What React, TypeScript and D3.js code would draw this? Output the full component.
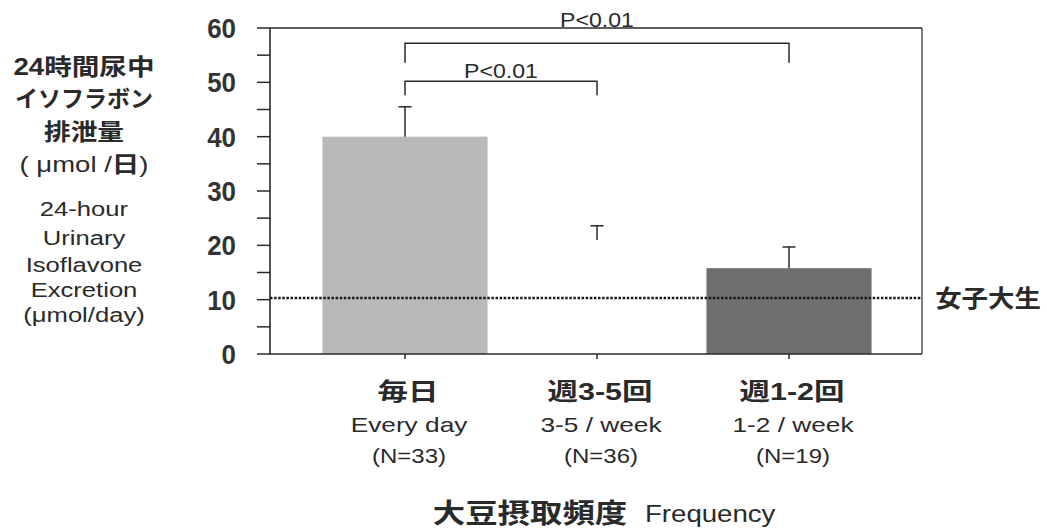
import React from "react";
import * as d3 from "d3";

// ---- Data ----
const categoriesJa = ["毎日", "週3-5回", "週1-2回"];
const categoriesEn = ["Every day", "3-5 / week", "1-2 / week"];
const sampleSizes = ["(N=33)", "(N=36)", "(N=19)"];
const meanValues = [40, 21, 15.8];
const errorValues = [5.5, 2.6, 3.9];
const yTickValues = [0, 10, 20, 30, 40, 50, 60];
const referenceValue = 10.3;
const referenceLabel = "女子大生";
const compFrom = [0, 0];
const compTo = [1, 2];
const compLevel = [50.2, 57.2];
const compLegEnd = [47.6, 53.6];
const compLabelLevel = [50.8, 60.25];
const compLabels = ["P<0.01", "P<0.01"];
const yTitleJa = ["24時間尿中", "イソフラボン", "排泄量"];
const yTitleEn = ["24-hour", "Urinary", "Isoflavone", "Excretion", "(μmol/day)"];

// ---- Styles ----
const barFills = ["#b9b9b9", "#ffffff", "#6f6f6f"];
const ink = "#2a2a2a";
const FONT = "'Liberation Sans', Arial, 'Noto Sans CJK JP', sans-serif";

const W = 1047;
const H = 528;
const left = 270;
const right = 922;
const top = 28;
const bottom = 354;

function T({ x, y, size, weight = "normal", sx = 1, anchor = "middle", children, fill = ink }: any) {
  return (
    <text
      transform={`translate(${x},${y}) scale(${sx},1)`}
      fontSize={size}
      fontWeight={weight}
      textAnchor={anchor}
      fill={fill}
    >
      {children}
    </text>
  );
}

export default function App() {
  const y = d3.scaleLinear().domain([0, 60]).range([bottom, top]);
  const x = d3
    .scaleBand<string>()
    .domain(categoriesJa)
    .range([309, 885])
    .paddingInner(0.14)
    .paddingOuter(0.07);
  const cx = (i: number) => (x(categoriesJa[i]) as number) + x.bandwidth() / 2;
  const minorTicks = d3.range(0, 61, 5);

  const jaSx = [1.2, 1.0, 1.16];
  const jaBase = [75, 107, 140];
  const enBase = [216, 245, 272, 297, 322];
  const titleX = 84;

  return (
    <svg
      width={W}
      height={H}
      style={{ position: "absolute", left: 0, top: 0, background: "#fff" }}
      fontFamily={FONT}
    >
      <rect x={0} y={0} width={W} height={H} fill="#fff" />

      {/* bars */}
      {meanValues.map((v, i) => (
        <rect
          key={"b" + i}
          x={x(categoriesJa[i])}
          y={y(v)}
          width={x.bandwidth()}
          height={y(0) - y(v)}
          fill={barFills[i]}
        />
      ))}

      {/* error bars (upper whisker) */}
      {meanValues.map((v, i) => (
        <g key={"e" + i} stroke={ink} strokeWidth={1.5}>
          <line x1={cx(i)} x2={cx(i)} y1={y(v)} y2={y(v + errorValues[i])} />
          <line x1={cx(i) - 6.5} x2={cx(i) + 6.5} y1={y(v + errorValues[i])} y2={y(v + errorValues[i])} />
        </g>
      ))}

      {/* reference dotted line */}
      <line
        x1={left}
        x2={right}
        y1={y(referenceValue)}
        y2={y(referenceValue)}
        stroke="#1a1a1a"
        strokeWidth={2.5}
        strokeDasharray="2.5,1.6"
      />
      <T x={988} y={y(referenceValue) + 9} size={24} weight="bold" sx={1.1}>
        {referenceLabel}
      </T>

      {/* frame */}
      <g stroke={ink} fill="none">
        <line x1={left} x2={left} y1={top} y2={bottom} strokeWidth={1.6} />
        <line x1={right} x2={right} y1={top} y2={bottom} strokeWidth={1.2} />
        <line x1={left} x2={right} y1={top} y2={top} strokeWidth={1.3} />
        <line x1={left} x2={right} y1={bottom} y2={bottom} strokeWidth={1.6} />
        {minorTicks.map((t) => (
          <line key={"t" + t} x1={left - 13} x2={left} y1={y(t)} y2={y(t)} strokeWidth={1.5} />
        ))}
        {categoriesJa.map((c, i) => (
          <line key={"xt" + i} x1={cx(i)} x2={cx(i)} y1={bottom} y2={bottom + 5} strokeWidth={1.5} />
        ))}
      </g>

      {/* y tick labels */}
      {yTickValues.map((t) => (
        <T key={"yl" + t} x={236} y={y(t) + 10} size={27} weight="bold" sx={0.96} anchor="end" fill="#333">
          {t}
        </T>
      ))}

      {/* significance brackets */}
      {compLabels.map((lab, k) => {
        const x1 = cx(compFrom[k]);
        const x2 = cx(compTo[k]);
        const yl = y(compLevel[k]);
        const ye = y(compLegEnd[k]);
        return (
          <g key={"c" + k}>
            <path
              d={`M${x1},${ye}V${yl}H${x2}V${ye}`}
              fill="none"
              stroke={ink}
              strokeWidth={1.5}
            />
            <T x={(x1 + x2) / 2} y={y(compLabelLevel[k])} size={21} sx={1.1}>
              {lab}
            </T>
          </g>
        );
      })}

      {/* category labels */}
      {categoriesJa.map((c, i) => (
        <g key={"cl" + i}>
          <T x={cx(i) + 3} y={400} size={24} weight="bold" sx={1.27}>
            {c}
          </T>
          <T x={cx(i) + 4} y={432} size={21} sx={1.25}>
            {categoriesEn[i]}
          </T>
          <T x={cx(i) + 4} y={463} size={20} sx={1.2}>
            {sampleSizes[i]}
          </T>
        </g>
      ))}

      {/* x title */}
      <T x={530} y={523} size={27} weight="bold" sx={1.2}>
        大豆摂取頻度
      </T>
      <T x={645} y={522} size={23} sx={1.2} anchor="start">
        Frequency
      </T>

      {/* y title */}
      {yTitleJa.map((s, i) => (
        <T key={"yj" + i} x={titleX} y={jaBase[i]} size={23} weight="bold" sx={jaSx[i]}>
          {s}
        </T>
      ))}
      <T x={titleX} y={172} size={22} sx={1.25}>
        {"( μmol /"}
        <tspan fontWeight="bold">日</tspan>
        {")"}
      </T>
      {yTitleEn.map((s, i) => (
        <T key={"ye" + i} x={titleX} y={enBase[i]} size={21} sx={1.22}>
          {s}
        </T>
      ))}
    </svg>
  );
}
